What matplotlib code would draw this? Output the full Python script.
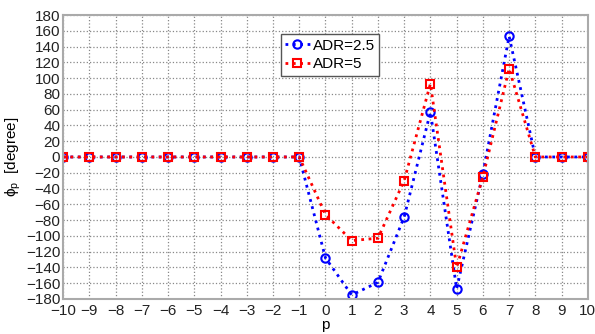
import matplotlib
matplotlib.use("Agg")
import matplotlib.pyplot as plt
import numpy as np

plt.rcParams['font.family'] = ['Liberation Sans', 'DejaVu Sans']
plt.rcParams['mathtext.fontset'] = 'custom'
plt.rcParams['mathtext.rm'] = 'Liberation Sans'
plt.rcParams['mathtext.it'] = 'Liberation Sans'

p = list(range(-10, 11))
adr25 = [0, 0, 0, 0, 0, 0, 0, 0, 0, 0, -128, -175, -159, -76, 57, -167, -21, 153, 0, 0, 0]
adr5 = [0, 0, 0, 0, 0, 0, 0, 0, 0, 0, -73, -106, -103, -30, 93, -140, -25, 112, 0, 0, 0]
xticks = list(range(-10, 11))
yticks = list(range(-180, 181, 20))

fig = plt.figure(figsize=(5.95, 3.34), dpi=100)
ax = fig.add_axes([0.106, 0.105, 0.882, 0.85])

ax.plot(p, adr25, color='#0000ff', linestyle=':', linewidth=2, marker='o',
        markersize=6, markerfacecolor='none', markeredgewidth=1.5, label='ADR=2.5')
ax.plot(p, adr5, color='#ff0000', linestyle=':', linewidth=2, marker='s',
        markersize=6, markerfacecolor='none', markeredgewidth=1.5, label='ADR=5')

ax.set_xlim(-10, 10)
ax.set_ylim(-180, 180)
ax.set_xticks(xticks)
ax.set_yticks(yticks)
ax.tick_params(axis='both', labelsize=11, length=0, colors='#222222')
ax.tick_params(axis='x', pad=4)
ax.tick_params(axis='y', pad=2)
ax.grid(True, linestyle=':', color='#888888', linewidth=0.9)
for s in ax.spines.values():
    s.set_color('#aaaaaa')
    s.set_linewidth(1.5)

ax.set_xlabel('p', fontsize=11, labelpad=0)
ax.set_ylabel(r'$\mathrm{\phi_p}$  [degree]', fontsize=11, labelpad=2)

leg = ax.legend(loc='upper left', bbox_to_anchor=(0.4, 0.96), fontsize=11,
                fancybox=False, framealpha=1, edgecolor='#555555',
                handlelength=1.6, borderpad=0.3, labelspacing=0.3, handletextpad=0.2)
leg.get_frame().set_linewidth(1.0)

fig.savefig('out.png', dpi=100)
